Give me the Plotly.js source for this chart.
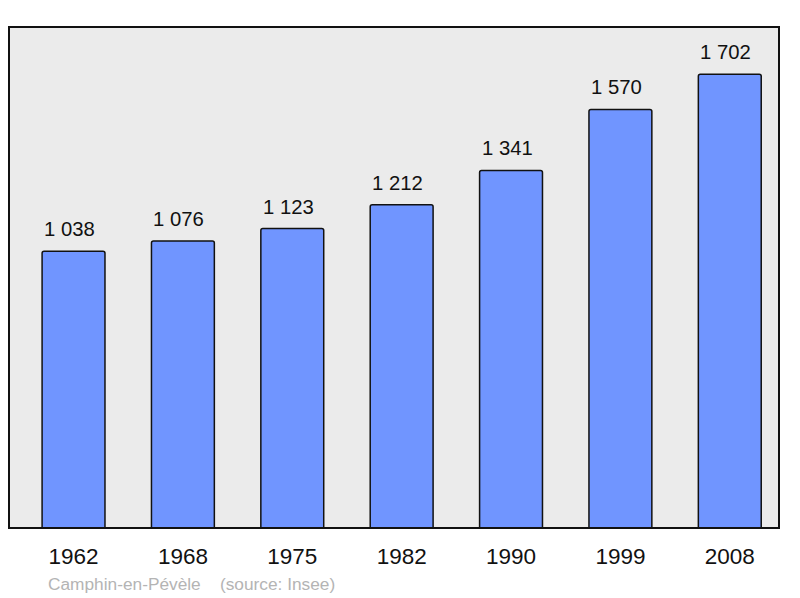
<!DOCTYPE html>
<html>
<head>
<meta charset="utf-8">
<script src="https://cdn.plot.ly/plotly-3.0.1.min.js"></script>
<style>html,body{margin:0;padding:0;background:#fff;}#chart{width:800px;height:598px;}</style>
</head>
<body>
<div id="chart"></div>
<script>
const years = ["1962","1968","1975","1982","1990","1999","2008"];
const population = [1038, 1076, 1123, 1212, 1341, 1570, 1702];
const labels = ["1 038","1 076","1 123","1 212","1 341","1 570","1 702"];
const footer = "Camphin-en-Pévèle    (source: Insee)";

const trace = {
  type: "bar",
  x: years,
  y: population,
  width: 0.575,
  marker: {color: "#7095ff", line: {color: "#111", width: 1.5}, cornerradius: 2},
  hoverinfo: "skip"
};

const annotations = years.map((yr, i) => ({
  x: i, y: population[i], xref: "x", yref: "y",
  text: labels[i], showarrow: false, yanchor: "bottom", yshift: 9, xshift: -4,
  font: {family: "Liberation Sans, Arial, sans-serif", size: 20.3, color: "#111"}
}));
annotations.push({
  xref: "paper", yref: "paper", x: 37/770, y: -56/501, xanchor: "left", yanchor: "middle",
  text: footer, showarrow: false,
  font: {family: "Liberation Sans, Arial, sans-serif", size: 17.3, color: "#b4b4b4"}
});

const layout = {
  width: 800, height: 598,
  margin: {l: 9, r: 21, t: 27, b: 70, pad: 0},
  paper_bgcolor: "#ffffff",
  plot_bgcolor: "#ebebeb",
  showlegend: false,
  xaxis: {
    type: "category", range: [-0.59, 6.45], showgrid: false, zeroline: false,
    showline: false, ticks: "", ticklabelstandoff: 12,
    tickfont: {family: "Liberation Sans, Arial, sans-serif", size: 22.5, color: "#111"},
    fixedrange: true
  },
  yaxis: {
    range: [0, 1879], showgrid: false, zeroline: false, showticklabels: false,
    ticks: "", showline: false, fixedrange: true
  },
  shapes: [{
    type: "rect", xref: "paper", yref: "paper", x0: 0, x1: 1, y0: 0, y1: 1,
    line: {color: "#111", width: 2}, fillcolor: "rgba(0,0,0,0)", layer: "above"
  }],
  annotations: annotations
};

Plotly.newPlot("chart", [trace], layout, {displayModeBar: false, staticPlot: true});
</script>
</body>
</html>
